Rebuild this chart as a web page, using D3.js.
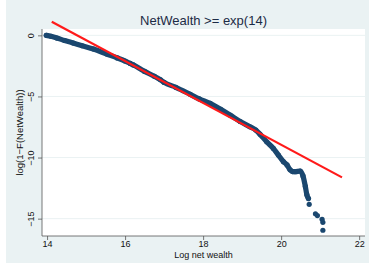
<!DOCTYPE html>
<html>
<head>
<meta charset="utf-8">
<script src="https://cdn.jsdelivr.net/npm/d3@7"></script>
<style>
  body { margin: 0; background: #fff; }
  svg { display: block; font-family: "Liberation Sans", Arial, sans-serif; }
</style>
</head>
<body>
<svg id="chart" width="369" height="266"></svg>
<script>
// log net wealth vs log(1-F), dense part of the sample
const denseX = [13.98, 14.1, 14.25, 14.45, 14.67, 14.9, 15.19, 15.53, 15.8, 16.0,
  16.13, 16.21, 16.5, 16.75, 16.9, 17.0, 17.3, 17.67, 17.9, 18.18,
  18.45, 18.69, 18.95, 19.2, 19.35, 19.46, 19.63, 19.8, 19.93, 20.06,
  20.15, 20.23, 20.3, 20.36, 20.49, 20.56, 20.62, 20.66, 20.7];
const denseY = [0.0, -0.08, -0.22, -0.42, -0.63, -0.85, -1.12, -1.53, -1.85, -2.1,
  -2.3, -2.42, -2.95, -3.35, -3.62, -3.85, -4.25, -4.83, -5.2, -5.57,
  -6.05, -6.52, -7.05, -7.48, -7.75, -8.1, -8.71, -9.25, -9.8, -10.34,
  -10.6, -11.0, -11.15, -11.16, -11.1, -11.5, -12.35, -13.05, -13.35];
// sparse tail
const tailX = [20.72, 20.88, 20.93, 21.05, 21.07, 21.07];
const tailY = [-13.83, -14.6, -14.75, -15.05, -15.3, -15.95];
// fitted line endpoints
const fitX = [14.12, 21.56];
const fitY = [1.11, -11.62];

const xTicks = [14, 16, 18, 20, 22];
const yTicks = [0, -5, -10, -15];

const svg = d3.select("#chart");
const W = 369, H = 266;
const plot = { left: 42, right: 365, top: 29, bottom: 236 };

// background
svg.append("rect").attr("x", 6).attr("y", 0).attr("width", W - 6).attr("height", 263)
  .attr("fill", "#eaf2f3");
svg.append("rect").attr("x", plot.left).attr("y", plot.top)
  .attr("width", plot.right - plot.left).attr("height", plot.bottom - plot.top)
  .attr("fill", "#fff");

const x = d3.scaleLinear().domain([13.87, 22.15]).range([plot.left, plot.right]);
const y = d3.scaleLinear().domain([-16.42, 0.52]).range([plot.bottom, plot.top]);

// grid
svg.append("g").selectAll("line").data(yTicks).join("line")
  .attr("x1", plot.left).attr("x2", plot.right)
  .attr("y1", d => y(d)).attr("y2", d => y(d))
  .attr("stroke", "#eaf2f3").attr("stroke-width", 1);

// axes
const xAxis = svg.append("g").attr("transform", `translate(0,${plot.bottom})`)
  .call(d3.axisBottom(x).tickValues(xTicks).tickSize(4).tickPadding(1));
const yAxis = svg.append("g").attr("transform", `translate(${plot.left},0)`)
  .call(d3.axisLeft(y).tickValues(yTicks).tickSize(4).tickFormat(d => d === 0 ? "0" : "\u2212" + Math.abs(d)));

[xAxis, yAxis].forEach(a => {
  a.select(".domain").attr("stroke", "#555").attr("stroke-width", 0.8);
  a.selectAll(".tick line").attr("stroke", "#555").attr("stroke-width", 0.8);
  a.selectAll("text").attr("fill", "#111").style("font-size", "9px")
    .style("font-family", "Liberation Sans, Arial, sans-serif");
});
xAxis.select(".domain").attr("d", `M${plot.left},0H${plot.right}`);
yAxis.select(".domain").attr("d", `M0,${plot.bottom}V${plot.top}`);
yAxis.selectAll(".tick text")
  .attr("x", 0).attr("dy", null).attr("y", 0)
  .attr("text-anchor", "middle")
  .attr("transform", "translate(-8,0) rotate(-90)");

// dense data as a thick band of markers
const dense = denseX.map((d, i) => [d, denseY[i]]);
const tail = tailX.map((d, i) => [d, tailY[i]]);
const navy = "#1a476f";

svg.append("path").datum(dense)
  .attr("d", d3.line().x(d => x(d[0])).y(d => y(d[1])).curve(d3.curveMonotoneX))
  .attr("fill", "none").attr("stroke", navy).attr("stroke-width", 5.2)
  .attr("stroke-linecap", "round").attr("stroke-linejoin", "round");

svg.append("g").selectAll("circle").data(dense.concat(tail)).join("circle")
  .attr("cx", d => x(d[0])).attr("cy", d => y(d[1])).attr("r", 2.6)
  .attr("fill", navy);

// fitted line
svg.append("line")
  .attr("x1", x(fitX[0])).attr("y1", y(fitY[0]))
  .attr("x2", x(fitX[1])).attr("y2", y(fitY[1]))
  .attr("stroke", "#ff1a1a").attr("stroke-width", 2.2);

// titles
svg.append("text").attr("x", 203.5).attr("y", 24.5).attr("text-anchor", "middle")
  .style("font-size", "13px").attr("fill", "#1c2b45").text("NetWealth >= exp(14)");
svg.append("text").attr("x", 203.5).attr("y", 258).attr("text-anchor", "middle")
  .style("font-size", "9px").attr("fill", "#111").text("Log net wealth");
svg.append("text").attr("transform", `translate(23,${(plot.top + plot.bottom) / 2}) rotate(-90)`)
  .attr("text-anchor", "middle")
  .style("font-size", "9.5px").attr("fill", "#111").text("log(1\u2212F(NetWealth))");
</script>
</body>
</html>
